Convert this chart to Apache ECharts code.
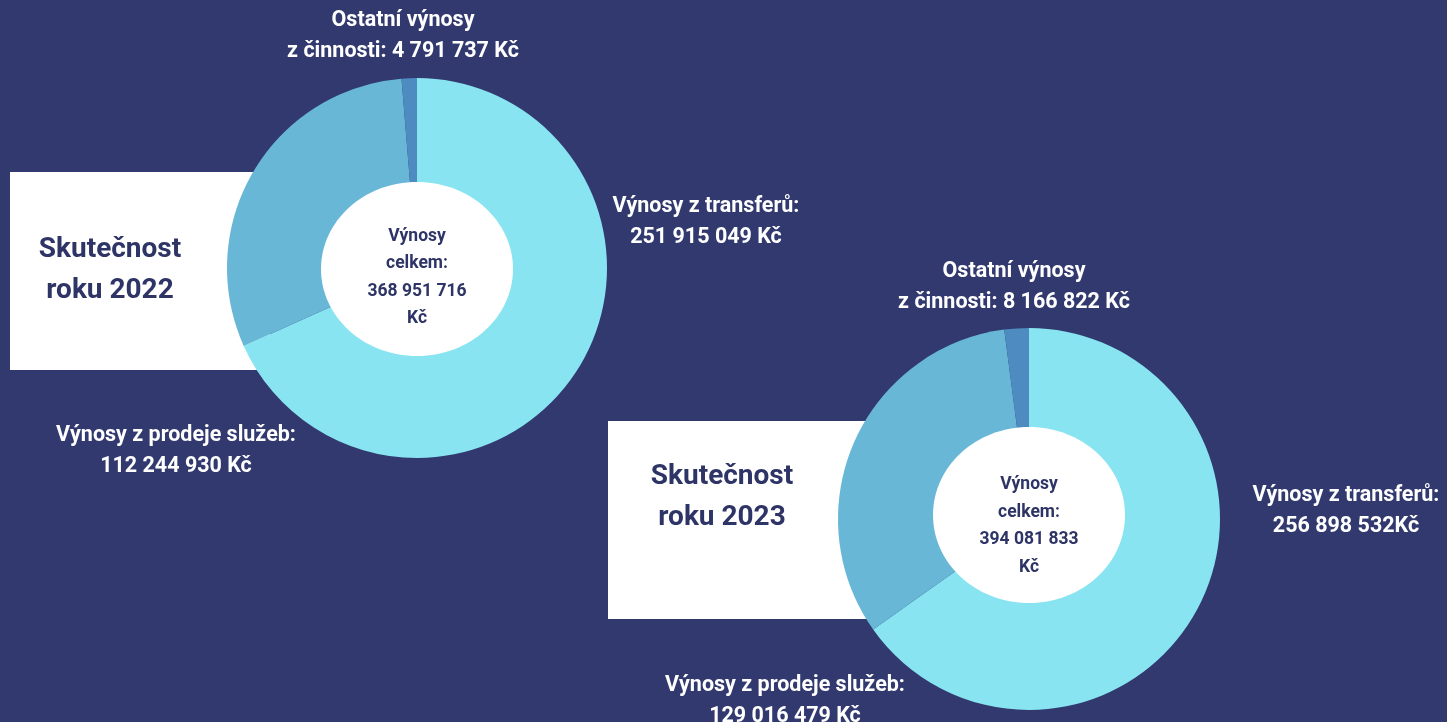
<!DOCTYPE html>
<html>
<head>
<meta charset="utf-8">
<title>Výnosy</title>
<script src="https://cdn.jsdelivr.net/npm/echarts@6/dist/echarts.min.js"></script>
<style>
  html, body { margin: 0; padding: 0; background: #31396f; }
  #chart { width: 1447px; height: 722px; }
</style>
</head>
<body>
<div id="chart"></div>
<script>
// slices, clockwise from 12 o'clock
const names = ['Výnosy z transferů', 'Výnosy z prodeje služeb', 'Ostatní výnosy z činnosti']
const heads = ['Výnosy z transferů:\n', 'Výnosy z prodeje služeb:\n', 'Ostatní výnosy\nz činnosti: ']
const values2022 = [251915049, 112244930, 4791737]
const values2023 = [256898532, 129016479, 8166822]
const units2022 = [' Kč', ' Kč', ' Kč']
const units2023 = ['Kč', ' Kč', ' Kč']
const years = ['2022', '2023']

const colors = ['#89e4f1', '#68b7d7', '#4e8bc0']
const navy = '#2e3566'

// where each label sits (centre of the text block)
const labelPos = [
    [[706, 222], [176, 451], [403, 36]],
    [[1346, 511], [785, 701], [1014, 287]]
]
const centers = [[417, 268], [1029, 519]]
const radii = [190, 191]
// white hole in the middle (slightly flattened in the original)
const holes = [[417, 269, 96, 87], [1029, 515, 96, 88]]
const totalTextY = [277.5, 526]

function fmt (n) {
    return String(n).replace(/\B(?=(\d{3})+(?!\d))/g, ' ')
}

function ring (values, units, idx) {
    return {
        type: 'pie',
        center: centers[idx],
        radius: [0, radii[idx]],
        startAngle: 90,
        silent: true,
        data: values.map((v, i) => ({
            name: names[i],
            value: v,
            itemStyle: { color: colors[i] },
            label: { formatter: heads[i] + fmt(v) + units[i] }
        })),
        label: {
            show: true,
            color: '#fff',
            fontFamily: 'Roboto',
            fontWeight: 'bold',
            fontSize: 21.5,
            lineHeight: 31,
            overflow: 'none'
        },
        labelLine: { show: false },
        labelLayout: function (p) {
            const pos = labelPos[idx][p.dataIndex]
            return { x: pos[0], y: pos[1], align: 'center', verticalAlign: 'middle' }
        }
    }
}

const boxes = [[10, 172, 260, 198, 110, 270], [608, 421, 270, 198, 722, 497]]
const allValues = [values2022, values2023]

const graphic = []
boxes.forEach((b, i) => {
    graphic.push({ type: 'rect', z: 0, shape: { x: b[0], y: b[1], width: b[2], height: b[3] }, style: { fill: '#fff' } })
    graphic.push({
        type: 'text', z: 1, x: b[4], y: b[5],
        style: {
            text: 'Skutečnost\nroku ' + years[i],
            fill: navy,
            font: 'bold 28px Roboto',
            lineHeight: 41,
            align: 'center',
            verticalAlign: 'middle'
        }
    })
})
holes.forEach((h, i) => {
    const total = allValues[i].reduce((a, b) => a + b, 0)
    graphic.push({ type: 'ellipse', z: 10, shape: { cx: h[0], cy: h[1], rx: h[2], ry: h[3] }, style: { fill: '#fff' } })
    graphic.push({
        type: 'text', z: 11, x: h[0], y: totalTextY[i],
        style: {
            text: 'Výnosy\ncelkem:\n' + fmt(total) + '\nKč',
            fill: navy,
            font: 'bold 17.5px Roboto',
            lineHeight: 27.5,
            align: 'center',
            verticalAlign: 'middle'
        }
    })
})

const chart = echarts.init(document.getElementById('chart'))
chart.setOption({
    backgroundColor: '#31396f',
    animation: false,
    graphic: graphic,
    series: [
        ring(values2022, units2022, 0),
        ring(values2023, units2023, 1)
    ]
})
</script>
</body>
</html>
